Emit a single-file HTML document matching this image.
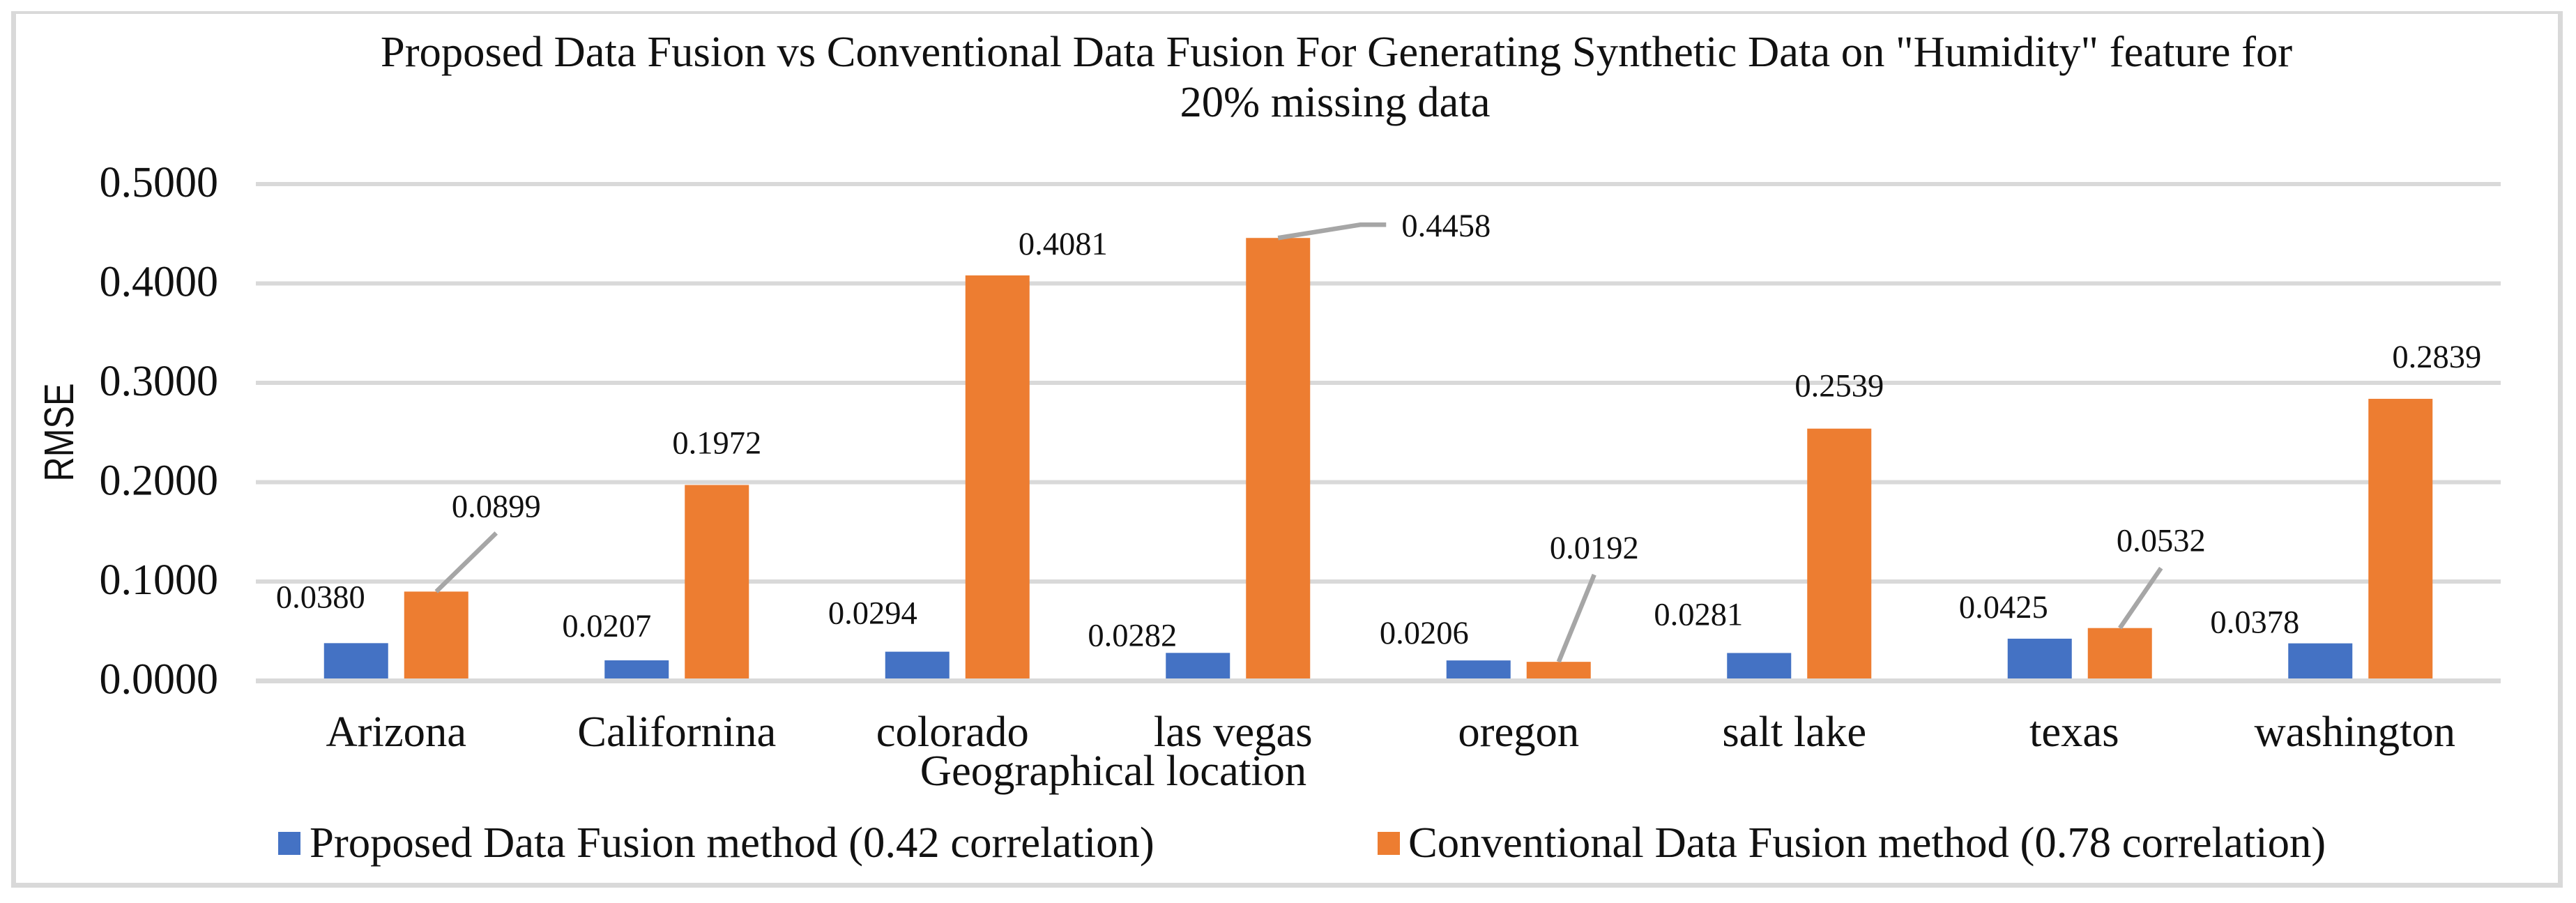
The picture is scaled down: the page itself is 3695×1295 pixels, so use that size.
<!DOCTYPE html>
<html lang="en">
<head>
<meta charset="utf-8">
<title>Proposed vs Conventional Data Fusion RMSE</title>
<style>
html,body{margin:0;padding:0;background:#fff;width:3695px;height:1295px;overflow:hidden}
svg{display:block;font-family:"Liberation Serif",serif;fill:#111}
</style>
</head>
<body>
<svg id="chart" xmlns="http://www.w3.org/2000/svg" width="3695" height="1295" viewBox="0 0 3695 1295">
  <path fill="#d9d9d9" fill-rule="evenodd" d="M16 16H3676V1273H16Z M23 20V1266H3669V20Z"/>
  <text x="1917" y="95" font-size="62.6" text-anchor="middle">Proposed Data Fusion vs Conventional Data Fusion For Generating Synthetic Data on "Humidity" feature for</text>
  <text x="1915" y="167" font-size="62.6" text-anchor="middle">20% missing data</text>
  <text transform="translate(105,620) rotate(-90)" style="font-family:'Liberation Sans',sans-serif" font-size="59" text-anchor="middle" textLength="141" lengthAdjust="spacingAndGlyphs">RMSE</text>
  <text x="1597" y="1126" font-size="62.6" text-anchor="middle">Geographical location</text>
  <rect x="399" y="1193" width="32" height="33" fill="#4472c4"/>
  <text x="444" y="1229" font-size="62.7">Proposed Data Fusion method (0.42 correlation)</text>
  <rect x="1976" y="1193" width="32" height="33" fill="#ed7d31"/>
  <text x="2020" y="1229" font-size="62.7">Conventional Data Fusion method (0.78 correlation)</text>
</svg>
<script>
const categories = ["Arizona", "Californina", "colorado", "las vegas", "oregon", "salt lake", "texas", "washington"];
const proposedValues = [0.0380, 0.0207, 0.0294, 0.0282, 0.0206, 0.0281, 0.0425, 0.0378];
const conventionalValues = [0.0899, 0.1972, 0.4081, 0.4458, 0.0192, 0.2539, 0.0532, 0.2839];
const yTicks = [0, 0.1, 0.2, 0.3, 0.4, 0.5];

/* Layout only: nudges relative to each bar's top centre / category centre, as in the source chart */
const proposedLabelNudge = [[-51,-51],[-43,-34],[-64,-40],[-94,-10],[-78,-24],[-87,-40],[-52,-30],[-94,-15]];
const conventionalLabelNudge = [[86,-107],[0,-45],[94,-30],[241,-2],[51,-148],[0,-46],[59,-110],[52,-45]];
const categoryLabelNudge = [0, 0, -7, -7, 0, -7, -8, -8];
const leaderBends = {conventional: {0: [[86,-84]], 3: [[118,-19],[155,-19]], 4: [[51,-125]], 6: [[59,-86]]}};

const NS = "http://www.w3.org/2000/svg";
const svg = document.getElementById("chart");
const plotLeft = 367, plotRight = 3587, baseY = 976.5, unitPx = 1425;
const barWidth = 92, barOffset = 57.5;
const bandWidth = (plotRight - plotLeft) / categories.length;

function yScale(v) { return baseY - v * unitPx; }
function xCenter(i) { return plotLeft + bandWidth * (i + 0.5); }

function make(tag, attrs) {
  const el = document.createElementNS(NS, tag);
  for (const k in attrs) el.setAttribute(k, attrs[k]);
  svg.appendChild(el);
  return el;
}

function drawGrid(v) {
  const line = make("line", {x1: plotLeft, x2: plotRight, y1: yScale(v), y2: yScale(v), stroke: "#d9d9d9", "stroke-width": v === 0 ? 7 : 6});
  
  
}

yTicks.forEach(function (t) {
  if (t !== 0) drawGrid(t);
  const label = make("text", {x: 313, y: yScale(t) + 18, "font-size": 62, "text-anchor": "end"});
  label.textContent = t.toFixed(4);
  
  
});

function drawSeries(values, sign, color, nudges, key) {
  values.forEach(function (v, i) {
    const cx = xCenter(i) + sign * barOffset;
    const top = yScale(v);
    const bar = make("rect", {x: cx - barWidth / 2, y: top, width: barWidth, height: baseY - top, fill: color});
    
    

    const bends = (leaderBends[key] || {})[i];
    if (bends) {
      const pts = [[cx, top]].concat(bends.map(function (b) { return [cx + b[0], top + b[1]]; }));
      const leader = make("polyline", {points: pts.map(function (p) { return p.join(","); }).join(" "), fill: "none", stroke: "#a6a6a6", "stroke-width": 6.5});
      
      
    }

    const label = make("text", {x: cx + nudges[i][0], y: top + nudges[i][1], "font-size": 46.5, "text-anchor": "middle"});
    label.textContent = v.toFixed(4);
    
    
  });
}

drawSeries(proposedValues, -1, "#4472c4", proposedLabelNudge, "proposed");
drawSeries(conventionalValues, 1, "#ed7d31", conventionalLabelNudge, "conventional");
drawGrid(0);

categories.forEach(function (c, i) {
  const label = make("text", {x: xCenter(i) + categoryLabelNudge[i], y: 1070, "font-size": 62.6, "text-anchor": "middle"});
  label.textContent = c;
  
  
});
</script>
</body>
</html>
